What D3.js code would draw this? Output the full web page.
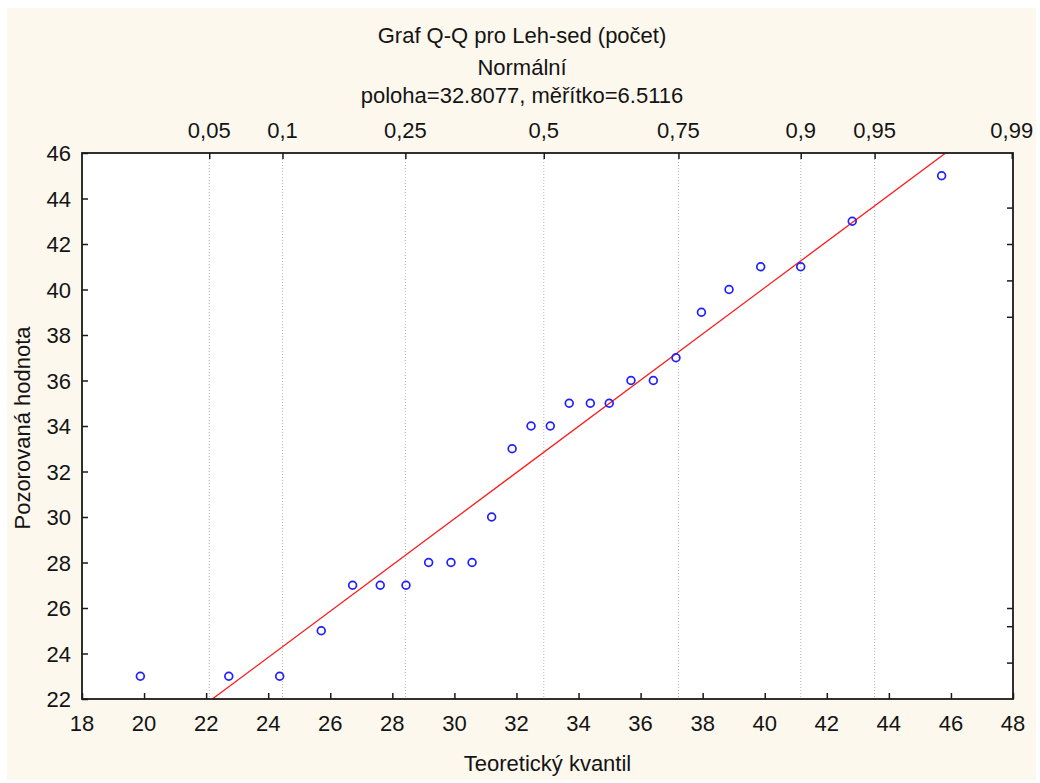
<!DOCTYPE html>
<html>
<head>
<meta charset="utf-8">
<script src="https://cdn.jsdelivr.net/npm/d3@7"></script>
<style>
  body { margin: 0; background: #fff; }
  text { font-family: "Liberation Sans", Arial, sans-serif; fill: #141414; }
</style>
</head>
<body>
<svg width="1040" height="783"></svg>
<script>
const theoretical = [19.88, 22.73, 24.37, 25.71, 26.72, 27.61, 28.44, 29.17, 29.89, 30.57,
  31.20, 31.86, 32.47, 33.09, 33.70, 34.38, 34.99, 35.69, 36.41, 37.14,
  37.96, 38.85, 39.87, 41.16, 42.82, 45.70];
const observed = [23, 23, 23, 25, 27, 27, 27, 28, 28, 28,
  30, 33, 34, 34, 35, 35, 35, 36, 36, 37,
  39, 40, 41, 41, 43, 45];

// probability axis on top
const probLabels = ['0,05', '0,1', '0,25', '0,5', '0,75', '0,9', '0,95', '0,99'];
const probQuantiles = [22.10, 24.46, 28.42, 32.88, 37.22, 41.16, 43.54, 47.96];

const xTicks = [18, 20, 22, 24, 26, 28, 30, 32, 34, 36, 38, 40, 42, 44, 46, 48];
const yTicks = [22, 24, 26, 28, 30, 32, 34, 36, 38, 40, 42, 44, 46];
const rightTicks = [43.6, 42.0, 40.4, 38.8, 26.0, 25.2, 23.6];

// fitted line endpoints
const fitX = [22.2, 45.83];
const fitY = [22, 46];

const titleLines = ['Graf Q-Q pro Leh-sed (počet)', 'Normální', 'poloha=32.8077, měřítko=6.5116'];

const svg = d3.select('svg');
const pLeft = 82, pTop = 153, pRight = 1013, pBottom = 699;

svg.append('rect')
    .attr('x', 7).attr('y', 8)
    .attr('width', 1029).attr('height', 772)
    .attr('fill', '#fdf8ee');

const x = d3.scaleLinear().domain([18, 48]).range([pLeft, pRight]);
const y = d3.scaleLinear().domain([22, 46]).range([pBottom, pTop]);

svg.append('rect')
    .attr('x', pLeft).attr('y', pTop)
    .attr('width', pRight - pLeft).attr('height', pBottom - pTop)
    .attr('fill', '#fff');

// dotted gridlines at the probability quantiles
svg.append('g')
    .selectAll('line')
    .data(probQuantiles.slice(0, -1))
    .enter()
    .append('line')
    .attr('x1', d => x(d)).attr('x2', d => x(d))
    .attr('y1', pTop).attr('y2', pBottom)
    .style('stroke', '#b4b4b4')
    .style('stroke-width', '1px')
    .style('stroke-dasharray', '1,2');

svg.append('clipPath').attr('id', 'plot')
    .append('rect')
    .attr('x', pLeft).attr('y', pTop)
    .attr('width', pRight - pLeft).attr('height', pBottom - pTop);

svg.append('line')
    .attr('clip-path', 'url(#plot)')
    .attr('x1', x(fitX[0])).attr('y1', y(fitY[0]))
    .attr('x2', x(fitX[1])).attr('y2', y(fitY[1]))
    .style('stroke', '#ff1a1a')
    .style('stroke-width', '1.3px');

svg.append('g')
    .selectAll('circle')
    .data(theoretical.map((d, i) => [d, observed[i]]))
    .enter()
    .append('circle')
    .attr('cx', d => x(d[0]))
    .attr('cy', d => y(d[1]))
    .attr('r', 3.9)
    .style('fill', 'none')
    .style('stroke', '#1f1fff')
    .style('stroke-width', '1.7px');

// axes, ticks pointing inward
const fontSize = '22px';
const bottomAxis = svg.append('g')
    .attr('transform', `translate(0,${pBottom})`)
    .call(d3.axisTop(x).tickValues(xTicks).tickSize(6).tickFormat(''));
svg.append('g')
    .selectAll('text')
    .data(xTicks)
    .enter()
    .append('text')
    .attr('x', d => x(d))
    .attr('y', pBottom + 32)
    .attr('text-anchor', 'middle')
    .style('font-size', fontSize)
    .text(d => d);

const leftAxis = svg.append('g')
    .attr('transform', `translate(${pLeft},0)`)
    .call(d3.axisRight(y).tickValues(yTicks).tickSize(6).tickFormat(''));
svg.append('g')
    .selectAll('text')
    .data(yTicks)
    .enter()
    .append('text')
    .attr('x', pLeft - 11)
    .attr('y', d => y(d) + 8)
    .attr('text-anchor', 'end')
    .style('font-size', fontSize)
    .text(d => d);

const topAxis = svg.append('g')
    .attr('transform', `translate(0,${pTop})`)
    .call(d3.axisBottom(x).tickValues(probQuantiles).tickSize(6).tickFormat(''));
svg.append('g')
    .selectAll('text')
    .data(probQuantiles)
    .enter()
    .append('text')
    .attr('x', d => x(d))
    .attr('y', pTop - 15)
    .attr('text-anchor', 'middle')
    .style('font-size', fontSize)
    .text((d, i) => probLabels[i]);

const rightAxis = svg.append('g')
    .attr('transform', `translate(${pRight},0)`)
    .call(d3.axisLeft(y).tickValues(rightTicks).tickSize(6).tickFormat(''));

[bottomAxis, leftAxis, topAxis, rightAxis].forEach(g => {
  g.select('.domain').remove();
  g.selectAll('line').style('stroke', '#1a1a1a').style('stroke-width', '1.5px');
});

svg.append('rect')
    .attr('x', pLeft).attr('y', pTop)
    .attr('width', pRight - pLeft).attr('height', pBottom - pTop)
    .style('fill', 'none')
    .style('stroke', '#1a1a1a')
    .style('stroke-width', '1.8px');

svg.append('g')
    .selectAll('text')
    .data(titleLines)
    .enter()
    .append('text')
    .attr('x', 522)
    .attr('y', (d, i) => [43, 75, 103][i])
    .attr('text-anchor', 'middle')
    .style('font-size', fontSize)
    .text(d => d);

svg.append('text')
    .attr('x', (pLeft + pRight) / 2)
    .attr('y', 771)
    .attr('text-anchor', 'middle')
    .style('font-size', fontSize)
    .text('Teoretický kvantil');

svg.append('text')
    .attr('transform', `translate(30,${(pTop + pBottom) / 2 + 2}) rotate(-90)`)
    .attr('text-anchor', 'middle')
    .style('font-size', fontSize)
    .text('Pozorovaná hodnota');
</script>
</body>
</html>
